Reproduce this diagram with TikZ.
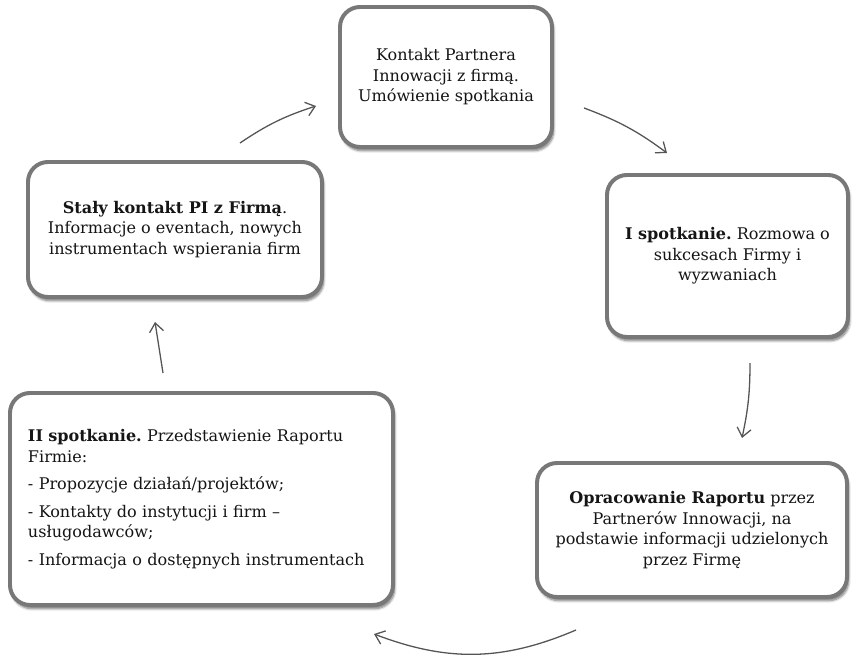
\documentclass[tikz,border=0pt]{standalone}
\usepackage{fontspec}
\setmainfont{DejaVu Serif}
\usetikzlibrary{arrows.meta,shadows.blur}
\definecolor{ramka}{HTML}{787878}
\definecolor{strzalka}{HTML}{555555}
\definecolor{tekst}{HTML}{151515}
\frenchspacing

\begin{document}
\begin{tikzpicture}[x=0.03cm, y=0.03cm,
	krok/.style={draw=ramka, line width=3.4pt, rounded corners=0.6cm, fill=white, text=tekst, align=center,
		font=\fontsize{13.7}{17.5}\selectfont,
		blur shadow={shadow xshift=0.05cm, shadow yshift=-0.11cm, shadow blur steps=6, shadow opacity=55}},
	strz/.style={draw=strzalka, line width=1.1pt, -{Straight Barb[length=7.5pt,width=12pt]}}]
	\useasboundingbox (0,0) rectangle (853,-655);
	% kroki
	\node [krok, minimum width=6.36cm, minimum height=4.2cm] (kontakt) at (446,-77)
		{Kontakt Partnera\\Innowacji z firmą.\\Umówienie spotkania};
	\node [krok, minimum width=7.23cm, minimum height=4.86cm] (spotkanie1) at (727.5,-256)
		{\textbf{I spotkanie.} Rozmowa o\\sukcesach Firmy i\\wyzwaniach};
	\node [krok, minimum width=9.3cm, minimum height=4.02cm] (raport) at (692,-530)
		{\textbf{Opracowanie Raportu} przez\\Partnerów Innowacji, na\\podstawie informacji udzielonych\\przez Firmę};
	\node [krok, align=left, text width=10.41cm, inner xsep=0.54cm, minimum height=6.36cm] (spotkanie2) at (201.5,-499)
		{\textbf{II spotkanie.} Przedstawienie Raportu\\Firmie:\\[0.21cm]
		- Propozycje działań/projektów;\\[0.21cm]
		- Kontakty do instytucji i firm --\\usługodawców;\\[0.21cm]
		- Informacja o dostępnych instrumentach};
	\node [krok, minimum width=8.82cm, minimum height=4.05cm] (staly) at (175,-229.5)
		{\textbf{Stały kontakt PI z Firmą}.\\Informacje o eventach, nowych\\instrumentach wspierania firm};
	% strzalki
	\coordinate (s1a) at (240,-143); \coordinate (s1b) at (316,-106);
	\coordinate (s2a) at (584,-108); \coordinate (s2b) at (667,-153);
	\coordinate (s3a) at (750,-363); \coordinate (s3b) at (742,-438);
	\coordinate (s4a) at (576,-630); \coordinate (s4b) at (374,-634);
	\coordinate (s5a) at (163,-373); \coordinate (s5b) at (155,-322);
	\draw [strz] (s1a) to [bend left=8] (s1b);
	\draw [strz] (s2a) to [bend left=8] (s2b);
	\draw [strz] (s3a) to [bend left=6] (s3b);
	\draw [strz] (s4a) to [bend left=22] (s4b);
	\draw [strz] (s5a) -- (s5b);
\end{tikzpicture}
\end{document}
